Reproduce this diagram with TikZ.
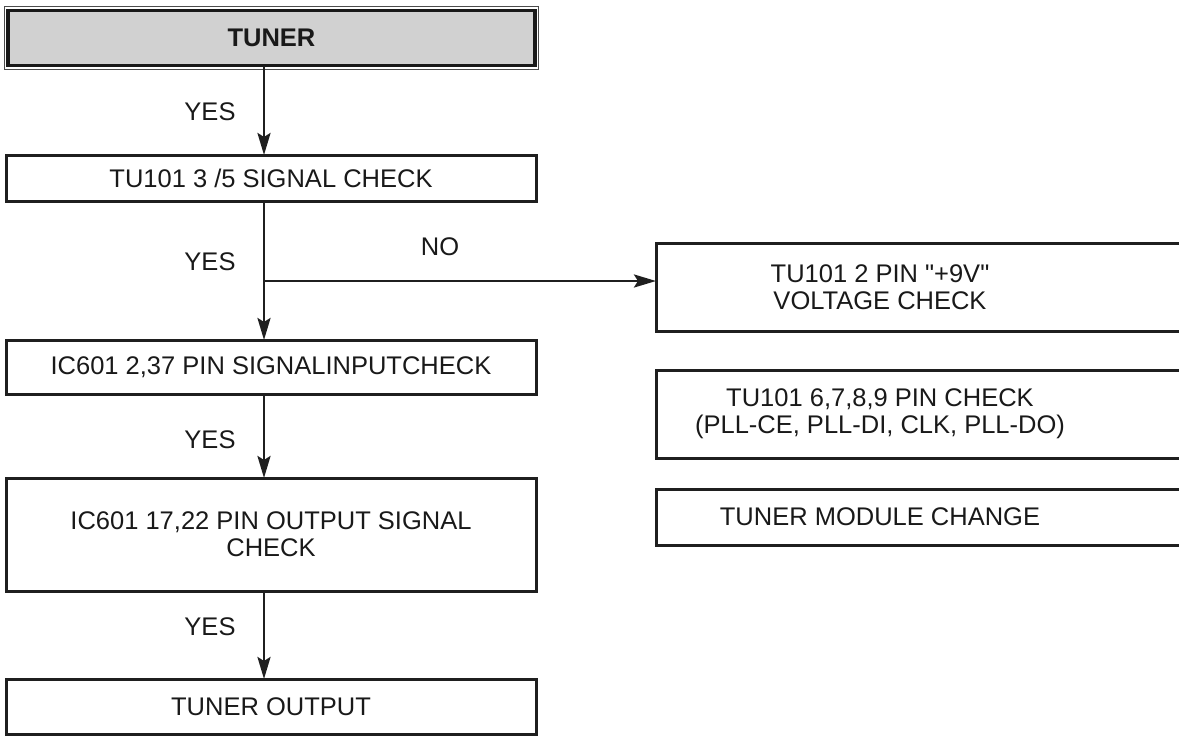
\documentclass[tikz,border=0pt]{standalone}
\usepackage{fontspec}
\setmainfont{Liberation Sans}[Ligatures=TeXOff]
\usetikzlibrary{arrows.meta}
\begin{document}
\begin{tikzpicture}[x=1pt,y=-1pt,
  lbl/.style={font=\fontsize{25.5}{27}\selectfont, inner sep=0pt, align=center, text=black!90},
  frame/.style={draw=black!88, line width=3pt},
  conn/.style={draw=black!88, line width=2.8pt},
  arr/.style={conn, -{Stealth[length=22pt,width=13pt,inset=4pt]}}]
\useasboundingbox (0,0) rectangle (1179,737);
% TUNER header
\fill[black!18] (7,10) rectangle (536,66);
\draw[black!70, line width=1.3pt] (4.5,6.5) rectangle (538.5,69.5);
\draw[black!90, line width=3.4pt] (8,10.5) rectangle (535,65.5);
\node[lbl, font=\bfseries\fontsize{25.5}{27}\selectfont] (tuner) at (271.5,38) {TUNER};
\coordinate (tunerb) at (264,66);
% left boxes
\draw[frame] (6,155) rectangle (536,201);
\node[lbl] (sig) at (271,178) {TU101 3 /5 SIGNAL CHECK};
\coordinate (sigt) at (264,155);
\coordinate (sigb) at (264,201);
\draw[frame] (6,340) rectangle (536,394);
\node[lbl] (icin) at (271,367) {IC601 2,37 PIN SIGNALINPUTCHECK};
\coordinate (icint) at (264,340);
\coordinate (icinb) at (264,394);
\draw[frame] (6,478) rectangle (536,591);
\node[lbl] (icout) at (271,534.5) {IC601 17,22 PIN OUTPUT SIGNAL\\CHECK};
\coordinate (icoutt) at (264,478);
\coordinate (icoutb) at (264,591);
\draw[frame] (6,679) rectangle (536,734);
\node[lbl] (out) at (271,706.5) {TUNER OUTPUT};
\coordinate (outt) at (264,679);
% right boxes (cut at right edge)
\draw[frame] (1190,243) -- (656,243) -- (656,331.5) -- (1190,331.5);
\node[lbl] (volt) at (880,287) {TU101 2 PIN "+9V"\\VOLTAGE CHECK};
\coordinate (voltl) at (656,281);
\draw[frame] (1190,370) -- (656,370) -- (656,458.5) -- (1190,458.5);
\node[lbl] (pll) at (880,414) {TU101 6,7,8,9 PIN CHECK\\(PLL-CE, PLL-DI, CLK, PLL-DO)};
\draw[frame] (1190,489) -- (656,489) -- (656,545) -- (1190,545);
\node[lbl] (mod) at (880,517) {TUNER MODULE CHANGE};
% connectors
\draw[arr] (tunerb) -- (sigt);
\draw[arr] (sigb) -- (icint);
\coordinate (br) at (264,281);
\draw[arr] (br) -- (voltl);
\draw[arr] (icinb) -- (icoutt);
\draw[arr] (icoutb) -- (outt);
% labels
\node[lbl] (y1) at (210,112) {YES};
\node[lbl] (y2) at (210,262) {YES};
\node[lbl] (no) at (440,247) {NO};
\node[lbl] (y3) at (210,440) {YES};
\node[lbl] (y4) at (210,627) {YES};
\end{tikzpicture}
\end{document}
